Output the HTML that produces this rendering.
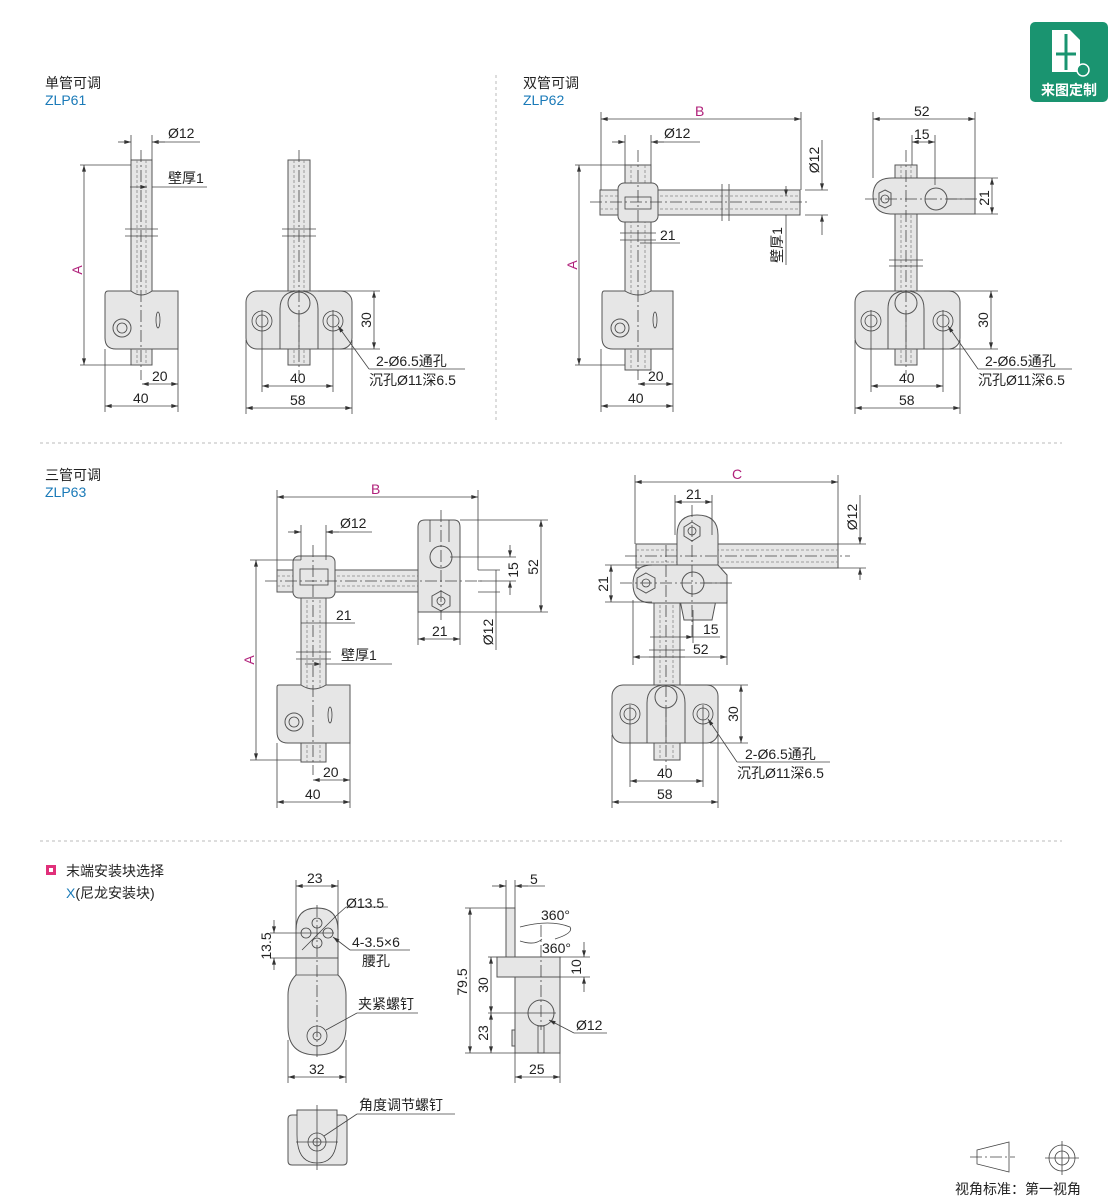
<!DOCTYPE html>
<html><head><meta charset="utf-8"><style>
html,body{margin:0;padding:0;background:#fff;}
svg{display:block;font-family:"Liberation Sans","Noto Sans CJK SC",sans-serif;}
.p{fill:#e6e6e6;stroke:#555;stroke-width:1;}
.d{stroke:#444;stroke-width:0.8;fill:none;}
.c{stroke:#444;stroke-width:0.8;fill:none;stroke-dasharray:12 3 2 3;}
.h{stroke:#888;stroke-width:0.8;fill:none;stroke-dasharray:3 2;}
text{font-size:14px;fill:#222;}
.m{fill:#b0207a;}
.b{fill:#1a7ab8;}
</style></head><body>
<svg width="1110" height="1200" viewBox="0 0 1110 1200" xmlns="http://www.w3.org/2000/svg">
<defs><marker id="a" viewBox="0 0 10 6" refX="10" refY="3" markerWidth="9" markerHeight="5" orient="auto-start-reverse"><path d="M0,0L10,3L0,6z" fill="#333"/></marker></defs>

<!-- logo -->
<rect x="1030" y="22" width="78" height="80" rx="5" fill="#1a9470"/>
<path d="M1052 30h18l10 10v32h-28z" fill="#fff"/>
<path d="M1066 34v36M1056 54h20" stroke="#1a9470" stroke-width="3"/>
<circle cx="1083" cy="70" r="6" fill="#1a9470" stroke="#fff" stroke-width="1.5"/>
<text x="1069" y="95" text-anchor="middle" style="font-size:14px;font-weight:bold;fill:#fff">来图定制</text>

<!-- dividers -->
<line x1="496" y1="75" x2="496" y2="420" stroke="#bbb" stroke-dasharray="3 3"/>
<line x1="40" y1="443" x2="1062" y2="443" stroke="#bbb" stroke-dasharray="3 3"/>
<line x1="40" y1="841" x2="1062" y2="841" stroke="#bbb" stroke-dasharray="3 3"/>

<text x="45" y="88">单管可调</text><text x="45" y="105" class="b">ZLP61</text>
<text x="523" y="88">双管可调</text><text x="523" y="105" class="b">ZLP62</text>
<text x="45" y="480">三管可调</text><text x="45" y="497" class="b">ZLP63</text>
<rect x="46" y="865" width="10" height="10" fill="#e0307a"/><rect x="49" y="868" width="4" height="4" fill="#fff"/>
<text x="66" y="876">末端安装块选择</text>
<text x="66" y="898"><tspan class="b">X</tspan>(尼龙安装块)</text>

<!-- ===== ZLP61 left ===== -->
<rect class="p" x="131" y="160" width="21" height="205"/>
<line class="h" x1="137" y1="160" x2="137" y2="365"/><line class="h" x1="146" y1="160" x2="146" y2="365"/>
<line class="d" x1="125" y1="229" x2="158" y2="229"/><line class="d" x1="125" y1="236" x2="158" y2="236"/>
<path class="p" d="M108 291h23q10 8 21 0h26v58h-62q-11 0-11-11v-43q0-4 3-4z"/>
<circle class="p" cx="122" cy="328" r="9"/><circle class="d" cx="122" cy="328" r="5"/>
<ellipse class="d" cx="158" cy="320" rx="2" ry="8"/>
<line class="c" x1="141" y1="150" x2="141" y2="380"/>
<line class="d" x1="131" y1="135" x2="131" y2="160"/><line class="d" x1="152" y1="135" x2="152" y2="160"/>
<line class="d" x1="118" y1="142" x2="131" y2="142" marker-end="url(#a)"/><line class="d" x1="165" y1="142" x2="152" y2="142" marker-end="url(#a)"/><line class="d" x1="152" y1="142" x2="200" y2="142"/>
<text x="168" y="138">Ø12</text>
<line class="d" x1="152" y1="187" x2="207" y2="187"/><line class="d" x1="130" y1="187" x2="147" y2="187" marker-end="url(#a)"/>
<text x="168" y="183">壁厚1</text>
<line class="d" x1="80" y1="165" x2="131" y2="165"/><line class="d" x1="80" y1="365" x2="131" y2="365"/>
<line class="d" x1="84" y1="165" x2="84" y2="365" marker-start="url(#a)" marker-end="url(#a)"/>
<text x="82" y="270" class="m" transform="rotate(-90 82 270)" text-anchor="middle">A</text>
<line class="d" x1="105" y1="349" x2="105" y2="412"/><line class="d" x1="178" y1="349" x2="178" y2="412"/>
<line class="d" x1="142" y1="384" x2="178" y2="384" marker-start="url(#a)" marker-end="url(#a)"/><text x="152" y="381">20</text>
<line class="d" x1="105" y1="406" x2="178" y2="406" marker-start="url(#a)" marker-end="url(#a)"/><text x="133" y="403">40</text>

<!-- ZLP61 right -->
<rect class="p" x="288" y="160" width="22" height="205"/>
<line class="h" x1="294" y1="160" x2="294" y2="365"/><line class="h" x1="304" y1="160" x2="304" y2="365"/>
<line class="d" x1="282" y1="229" x2="316" y2="229"/><line class="d" x1="282" y1="236" x2="316" y2="236"/>
<rect class="p" x="246" y="291" width="106" height="58" rx="11"/>
<path class="p" d="M280 349v-40q0-18 19-18q19 0 19 18v40z"/>
<circle class="p" cx="299" cy="303" r="11"/>
<line class="d" x1="299" y1="315" x2="299" y2="349"/>
<circle class="d" cx="262" cy="321" r="10"/><circle class="d" cx="262" cy="321" r="6"/>
<circle class="d" cx="333" cy="321" r="10"/><circle class="d" cx="333" cy="321" r="6"/>
<line class="c" x1="299" y1="150" x2="299" y2="375"/>
<line class="d" x1="318" y1="291" x2="380" y2="291"/><line class="d" x1="340" y1="349" x2="380" y2="349"/>
<line class="d" x1="374" y1="291" x2="374" y2="349" marker-start="url(#a)" marker-end="url(#a)"/>
<text x="371" y="320" transform="rotate(-90 371 320)" text-anchor="middle">30</text>
<line class="d" x1="262" y1="310" x2="262" y2="392"/><line class="d" x1="333" y1="310" x2="333" y2="392"/>
<line class="d" x1="246" y1="340" x2="246" y2="414"/><line class="d" x1="352" y1="340" x2="352" y2="414"/>
<line class="d" x1="262" y1="386" x2="333" y2="386" marker-start="url(#a)" marker-end="url(#a)"/><text x="290" y="383">40</text>
<line class="d" x1="246" y1="408" x2="352" y2="408" marker-start="url(#a)" marker-end="url(#a)"/><text x="290" y="405">58</text>
<line class="d" x1="369" y1="369" x2="338" y2="326" marker-end="url(#a)"/><line class="d" x1="369" y1="369" x2="465" y2="369"/>
<text x="376" y="366">2-Ø6.5通孔</text><text x="369" y="385">沉孔Ø11深6.5</text>

<!-- ===== ZLP62 left ===== -->
<rect class="p" x="625" y="165" width="26" height="205"/>
<line class="h" x1="631" y1="165" x2="631" y2="370"/><line class="h" x1="645" y1="165" x2="645" y2="370"/>
<rect class="p" x="600" y="190" width="200" height="25"/>
<line class="h" x1="600" y1="196" x2="800" y2="196"/><line class="h" x1="600" y1="209" x2="800" y2="209"/>
<line class="d" x1="722" y1="184" x2="722" y2="221"/><line class="d" x1="729" y1="184" x2="729" y2="221"/>
<rect class="p" x="618" y="183" width="40" height="39" rx="6"/>
<rect class="d" x="625" y="197" width="26" height="12"/>
<line class="d" x1="620" y1="233" x2="656" y2="233"/><line class="d" x1="620" y1="240" x2="656" y2="240"/>
<path class="p" d="M604 291h21q13 8 26 0h22v58h-60q-11 0-11-11v-43q0-4 2-4z"/>
<circle class="p" cx="620" cy="328" r="9"/><circle class="d" cx="620" cy="328" r="5"/>
<ellipse class="d" cx="655" cy="320" rx="2" ry="8"/>
<line class="c" x1="638" y1="150" x2="638" y2="380"/><line class="c" x1="590" y1="202" x2="810" y2="202"/>
<line class="d" x1="601" y1="112" x2="601" y2="190"/><line class="d" x1="801" y1="112" x2="801" y2="190"/>
<line class="d" x1="601" y1="119" x2="801" y2="119" marker-start="url(#a)" marker-end="url(#a)"/><text x="695" y="116" class="m">B</text>
<line class="d" x1="625" y1="135" x2="625" y2="165"/><line class="d" x1="651" y1="135" x2="651" y2="165"/>
<line class="d" x1="612" y1="142" x2="625" y2="142" marker-end="url(#a)"/><line class="d" x1="664" y1="142" x2="651" y2="142" marker-end="url(#a)"/><line class="d" x1="651" y1="142" x2="700" y2="142"/>
<text x="664" y="138">Ø12</text>
<line class="d" x1="575" y1="165" x2="625" y2="165"/><line class="d" x1="575" y1="365" x2="625" y2="365"/>
<line class="d" x1="579" y1="165" x2="579" y2="365" marker-start="url(#a)" marker-end="url(#a)"/>
<text x="577" y="265" class="m" transform="rotate(-90 577 265)" text-anchor="middle">A</text>
<line class="d" x1="640" y1="243" x2="680" y2="243"/><text x="660" y="240">21</text>
<line class="d" x1="805" y1="190" x2="828" y2="190"/><line class="d" x1="805" y1="215" x2="828" y2="215"/>
<line class="d" x1="822" y1="170" x2="822" y2="190" marker-end="url(#a)"/><line class="d" x1="822" y1="235" x2="822" y2="215" marker-end="url(#a)"/><line class="d" x1="822" y1="140" x2="822" y2="170"/>
<text x="819" y="160" transform="rotate(-90 819 160)" text-anchor="middle">Ø12</text>
<line class="d" x1="786" y1="215" x2="786" y2="265"/><line class="d" x1="786" y1="186" x2="786" y2="196" marker-end="url(#a)"/>
<text x="782" y="245" transform="rotate(-90 782 245)" text-anchor="middle">壁厚1</text>
<line class="d" x1="601" y1="349" x2="601" y2="412"/><line class="d" x1="673" y1="349" x2="673" y2="412"/>
<line class="d" x1="638" y1="384" x2="673" y2="384" marker-start="url(#a)" marker-end="url(#a)"/><text x="648" y="381">20</text>
<line class="d" x1="601" y1="406" x2="673" y2="406" marker-start="url(#a)" marker-end="url(#a)"/><text x="628" y="403">40</text>

<!-- ZLP62 right -->
<rect class="p" x="895" y="165" width="22" height="200"/>
<line class="h" x1="901" y1="165" x2="901" y2="365"/><line class="h" x1="911" y1="165" x2="911" y2="365"/>
<line class="d" x1="889" y1="260" x2="923" y2="260"/><line class="d" x1="889" y1="266" x2="923" y2="266"/>
<path class="p" d="M892 178h83v36h-83q-19 0-19-18q0-18 19-18z"/>
<polygon class="p" points="885,190 891,193 891,205 885,208 879,205 879,193"/>
<circle class="d" cx="885" cy="199" r="4"/>
<circle class="p" cx="936" cy="199" r="11"/>
<line class="d" x1="947" y1="199" x2="975" y2="199"/>
<rect class="p" x="855" y="291" width="105" height="58" rx="11"/>
<path class="p" d="M888 349v-40q0-18 18-18q18 0 18 18v40z"/>
<circle class="p" cx="906" cy="303" r="11"/>
<line class="d" x1="906" y1="315" x2="906" y2="349"/>
<circle class="d" cx="871" cy="321" r="10"/><circle class="d" cx="871" cy="321" r="6"/>
<circle class="d" cx="943" cy="321" r="10"/><circle class="d" cx="943" cy="321" r="6"/>
<line class="c" x1="906" y1="150" x2="906" y2="375"/><line class="c" x1="865" y1="199" x2="985" y2="199"/>
<line class="d" x1="873" y1="112" x2="873" y2="178"/><line class="d" x1="975" y1="112" x2="975" y2="178"/>
<line class="d" x1="873" y1="119" x2="975" y2="119" marker-start="url(#a)" marker-end="url(#a)"/><text x="914" y="116">52</text>
<line class="d" x1="912" y1="135" x2="912" y2="165"/><line class="d" x1="935" y1="135" x2="935" y2="185"/>
<line class="d" x1="912" y1="142" x2="935" y2="142" marker-start="url(#a)" marker-end="url(#a)"/><text x="914" y="139">15</text>
<line class="d" x1="975" y1="178" x2="998" y2="178"/><line class="d" x1="975" y1="214" x2="998" y2="214"/>
<line class="d" x1="992" y1="178" x2="992" y2="214" marker-start="url(#a)" marker-end="url(#a)"/>
<text x="989" y="198" transform="rotate(-90 989 198)" text-anchor="middle">21</text>
<line class="d" x1="924" y1="291" x2="998" y2="291"/><line class="d" x1="950" y1="349" x2="998" y2="349"/>
<line class="d" x1="991" y1="291" x2="991" y2="349" marker-start="url(#a)" marker-end="url(#a)"/>
<text x="988" y="320" transform="rotate(-90 988 320)" text-anchor="middle">30</text>
<line class="d" x1="871" y1="310" x2="871" y2="392"/><line class="d" x1="943" y1="310" x2="943" y2="392"/>
<line class="d" x1="855" y1="340" x2="855" y2="414"/><line class="d" x1="960" y1="340" x2="960" y2="414"/>
<line class="d" x1="871" y1="386" x2="943" y2="386" marker-start="url(#a)" marker-end="url(#a)"/><text x="899" y="383">40</text>
<line class="d" x1="855" y1="408" x2="960" y2="408" marker-start="url(#a)" marker-end="url(#a)"/><text x="899" y="405">58</text>
<line class="d" x1="978" y1="369" x2="948" y2="326" marker-end="url(#a)"/><line class="d" x1="978" y1="369" x2="1072" y2="369"/>
<text x="985" y="366">2-Ø6.5通孔</text><text x="978" y="385">沉孔Ø11深6.5</text>

<!-- ===== ZLP63 left ===== -->
<rect class="p" x="301" y="560" width="25" height="202"/>
<line class="h" x1="307" y1="560" x2="307" y2="762"/><line class="h" x1="320" y1="560" x2="320" y2="762"/>
<line class="d" x1="296" y1="652" x2="331" y2="652"/><line class="d" x1="296" y1="659" x2="331" y2="659"/>
<rect class="p" x="277" y="570" width="160" height="22"/>
<line class="h" x1="277" y1="576" x2="437" y2="576"/><line class="h" x1="277" y1="586" x2="437" y2="586"/>
<rect class="p" x="293" y="556" width="42" height="42" rx="6"/>
<rect class="d" x="300" y="569" width="28" height="16"/>
<path class="p" d="M418 612v-85q0-7 7-7h29q6 0 6 7v85z"/>
<path class="d" d="M430 520v22M449 520v22"/>
<circle class="p" cx="441" cy="557" r="11"/>
<polygon class="p" points="441,591 450,596 450,606 441,611 432,606 432,596"/><circle class="d" cx="441" cy="601" r="4"/>
<path class="p" d="M279 685h22q12 8 25 0h24v58h-62q-11 0-11-11v-45q0-2 2-2z"/>
<circle class="p" cx="294" cy="722" r="9"/><circle class="d" cx="294" cy="722" r="5"/>
<ellipse class="d" cx="330" cy="715" rx="2" ry="8"/>
<line class="c" x1="313" y1="545" x2="313" y2="775"/><line class="c" x1="265" y1="581" x2="485" y2="581"/><line class="c" x1="441" y1="510" x2="441" y2="620"/>
<line class="d" x1="277" y1="490" x2="277" y2="570"/><line class="d" x1="478" y1="490" x2="478" y2="570"/>
<line class="d" x1="277" y1="497" x2="478" y2="497" marker-start="url(#a)" marker-end="url(#a)"/><text x="371" y="494" class="m">B</text>
<line class="d" x1="301" y1="525" x2="301" y2="560"/><line class="d" x1="326" y1="525" x2="326" y2="560"/>
<line class="d" x1="288" y1="532" x2="301" y2="532" marker-end="url(#a)"/><line class="d" x1="339" y1="532" x2="326" y2="532" marker-end="url(#a)"/><line class="d" x1="326" y1="532" x2="372" y2="532"/>
<text x="340" y="528">Ø12</text>
<line class="d" x1="301" y1="623" x2="355" y2="623"/><text x="336" y="620">21</text>
<line class="d" x1="326" y1="664" x2="392" y2="664"/><line class="d" x1="305" y1="664" x2="321" y2="664" marker-end="url(#a)"/><text x="341" y="660">壁厚1</text>
<line class="d" x1="250" y1="560" x2="301" y2="560"/><line class="d" x1="250" y1="760" x2="301" y2="760"/>
<line class="d" x1="256" y1="560" x2="256" y2="760" marker-start="url(#a)" marker-end="url(#a)"/>
<text x="254" y="660" class="m" transform="rotate(-90 254 660)" text-anchor="middle">A</text>
<line class="d" x1="460" y1="520" x2="548" y2="520"/><line class="d" x1="460" y1="612" x2="548" y2="612"/>
<line class="d" x1="541" y1="520" x2="541" y2="612" marker-start="url(#a)" marker-end="url(#a)"/>
<text x="538" y="567" transform="rotate(-90 538 567)" text-anchor="middle">52</text>
<line class="d" x1="450" y1="557" x2="516" y2="557"/><line class="d" x1="478" y1="581" x2="516" y2="581"/>
<line class="d" x1="510" y1="545" x2="510" y2="557" marker-end="url(#a)"/><line class="d" x1="510" y1="595" x2="510" y2="581" marker-end="url(#a)"/>
<text x="518" y="570" transform="rotate(-90 518 570)" text-anchor="middle">15</text>
<line class="d" x1="478" y1="570" x2="500" y2="570"/><line class="d" x1="478" y1="592" x2="500" y2="592"/>
<line class="d" x1="496" y1="570" x2="496" y2="650"/>
<text x="493" y="632" transform="rotate(-90 493 632)" text-anchor="middle">Ø12</text>
<line class="d" x1="418" y1="612" x2="418" y2="645"/><line class="d" x1="460" y1="612" x2="460" y2="645"/>
<line class="d" x1="418" y1="639" x2="460" y2="639" marker-start="url(#a)" marker-end="url(#a)"/><text x="432" y="636">21</text>
<line class="d" x1="277" y1="743" x2="277" y2="808"/><line class="d" x1="350" y1="743" x2="350" y2="808"/>
<line class="d" x1="313" y1="780" x2="350" y2="780" marker-start="url(#a)" marker-end="url(#a)"/><text x="323" y="777">20</text>
<line class="d" x1="277" y1="802" x2="350" y2="802" marker-start="url(#a)" marker-end="url(#a)"/><text x="305" y="799">40</text>

<!-- ZLP63 right -->
<rect class="p" x="654" y="600" width="26" height="160"/>
<line class="h" x1="660" y1="600" x2="660" y2="760"/><line class="h" x1="673" y1="600" x2="673" y2="760"/>
<line class="d" x1="649" y1="650" x2="685" y2="650"/><line class="d" x1="649" y1="657" x2="685" y2="657"/>
<rect class="p" x="636" y="544" width="202" height="24"/>
<line class="h" x1="636" y1="550" x2="838" y2="550"/><line class="h" x1="636" y1="562" x2="838" y2="562"/>
<path class="p" d="M677 568v-33q0-20 20-20q21 0 21 20v33z"/>
<polygon class="p" points="692,522 700,527 700,536 692,541 684,536 684,527"/><circle class="d" cx="692" cy="531" r="4"/>
<path class="p" d="M680 600l4 20h28l4-20z"/>
<path class="p" d="M652 565h66l9 10v28h-75q-19 0-19-19q0-19 19-19z"/>
<polygon class="p" points="646,573 655,578 655,588 646,593 637,588 637,578"/><circle class="d" cx="646" cy="583" r="4"/>
<circle class="p" cx="693" cy="583" r="11"/>
<line class="d" x1="704" y1="583" x2="727" y2="583"/>
<rect class="p" x="612" y="685" width="106" height="58" rx="11"/>
<path class="p" d="M647 743v-40q0-18 19-18q19 0 19 18v40z"/>
<circle class="p" cx="666" cy="697" r="11"/>
<line class="d" x1="666" y1="709" x2="666" y2="743"/>
<circle class="d" cx="630" cy="714" r="10"/><circle class="d" cx="630" cy="714" r="6"/>
<circle class="d" cx="703" cy="714" r="10"/><circle class="d" cx="703" cy="714" r="6"/>
<line class="c" x1="666" y1="545" x2="666" y2="770"/><line class="c" x1="625" y1="556" x2="850" y2="556"/><line class="c" x1="692" y1="505" x2="692" y2="640"/><line class="c" x1="620" y1="583" x2="735" y2="583"/>
<line class="d" x1="635" y1="475" x2="635" y2="544"/><line class="d" x1="838" y1="475" x2="838" y2="544"/>
<line class="d" x1="635" y1="482" x2="838" y2="482" marker-start="url(#a)" marker-end="url(#a)"/><text x="732" y="479" class="m">C</text>
<line class="d" x1="675" y1="495" x2="675" y2="535"/><line class="d" x1="712" y1="495" x2="712" y2="535"/>
<line class="d" x1="675" y1="502" x2="712" y2="502" marker-start="url(#a)" marker-end="url(#a)"/><text x="686" y="499">21</text>
<line class="d" x1="838" y1="544" x2="866" y2="544"/><line class="d" x1="838" y1="568" x2="866" y2="568"/>
<line class="d" x1="860" y1="495" x2="860" y2="544" marker-end="url(#a)"/><line class="d" x1="860" y1="580" x2="860" y2="568" marker-end="url(#a)"/>
<text x="857" y="517" transform="rotate(-90 857 517)" text-anchor="middle">Ø12</text>
<line class="d" x1="605" y1="565" x2="652" y2="565"/><line class="d" x1="605" y1="602" x2="652" y2="602"/>
<line class="d" x1="611" y1="565" x2="611" y2="602" marker-start="url(#a)" marker-end="url(#a)"/>
<text x="608" y="584" transform="rotate(-90 608 584)" text-anchor="middle">21</text>
<line class="d" x1="633" y1="600" x2="633" y2="665"/><line class="d" x1="727" y1="600" x2="727" y2="665"/>
<line class="d" x1="693" y1="610" x2="693" y2="643"/>
<line class="d" x1="650" y1="637" x2="693" y2="637" marker-end="url(#a)"/><line class="d" x1="693" y1="637" x2="720" y2="637"/><text x="703" y="634">15</text>
<line class="d" x1="633" y1="657" x2="727" y2="657" marker-start="url(#a)" marker-end="url(#a)"/><text x="693" y="654">52</text>
<line class="d" x1="685" y1="685" x2="748" y2="685"/><line class="d" x1="710" y1="743" x2="748" y2="743"/>
<line class="d" x1="741" y1="685" x2="741" y2="743" marker-start="url(#a)" marker-end="url(#a)"/>
<text x="738" y="714" transform="rotate(-90 738 714)" text-anchor="middle">30</text>
<line class="d" x1="630" y1="705" x2="630" y2="787"/><line class="d" x1="703" y1="705" x2="703" y2="787"/>
<line class="d" x1="612" y1="735" x2="612" y2="808"/><line class="d" x1="718" y1="735" x2="718" y2="808"/>
<line class="d" x1="630" y1="781" x2="703" y2="781" marker-start="url(#a)" marker-end="url(#a)"/><text x="657" y="778">40</text>
<line class="d" x1="612" y1="802" x2="718" y2="802" marker-start="url(#a)" marker-end="url(#a)"/><text x="657" y="799">58</text>
<line class="d" x1="737" y1="762" x2="708" y2="719" marker-end="url(#a)"/><line class="d" x1="737" y1="762" x2="830" y2="762"/>
<text x="745" y="759">2-Ø6.5通孔</text><text x="737" y="778">沉孔Ø11深6.5</text>

<!-- ===== Section 4 ===== -->
<path class="p" d="M296 958v-28q0-22 21-22q21 0 21 22v28z"/>
<path class="p" d="M296 958h42v17q8 8 8 20v32q0 28-29 28q-29 0-29-28v-32q0-12 8-20z"/>
<line class="d" x1="296" y1="975" x2="338" y2="975"/>
<circle class="d" cx="317" cy="923" r="5"/><circle class="d" cx="317" cy="943" r="5"/>
<circle class="d" cx="306" cy="933" r="5"/><circle class="d" cx="328" cy="933" r="5"/>
<line class="d" x1="302" y1="950" x2="336" y2="916"/>
<circle class="d" cx="317" cy="1036" r="10"/><circle class="d" cx="317" cy="1036" r="4"/>
<line class="c" x1="317" y1="905" x2="317" y2="1060"/><line class="d" x1="300" y1="933" x2="334" y2="933"/>
<line class="d" x1="296" y1="880" x2="296" y2="930"/><line class="d" x1="338" y1="880" x2="338" y2="930"/>
<line class="d" x1="296" y1="886" x2="338" y2="886" marker-start="url(#a)" marker-end="url(#a)"/><text x="307" y="883">23</text>
<line class="d" x1="336" y1="916" x2="346" y2="907"/><line class="d" x1="346" y1="907" x2="388" y2="907"/><text x="346" y="908">Ø13.5</text>
<line class="d" x1="270" y1="933" x2="300" y2="933"/><line class="d" x1="270" y1="958" x2="296" y2="958"/>
<line class="d" x1="274" y1="920" x2="274" y2="933" marker-end="url(#a)"/><line class="d" x1="274" y1="970" x2="274" y2="958" marker-end="url(#a)"/>
<text x="271" y="946" transform="rotate(-90 271 946)" text-anchor="middle">13.5</text>
<line class="d" x1="350" y1="950" x2="333" y2="937" marker-end="url(#a)"/><line class="d" x1="350" y1="950" x2="410" y2="950"/>
<text x="352" y="947">4-3.5×6</text><text x="362" y="966">腰孔</text>
<line class="d" x1="326" y1="1030" x2="357" y2="1013"/><line class="d" x1="357" y1="1013" x2="418" y2="1013"/><text x="358" y="1009">夹紧螺钉</text>
<line class="d" x1="288" y1="1040" x2="288" y2="1083"/><line class="d" x1="346" y1="1040" x2="346" y2="1083"/>
<line class="d" x1="288" y1="1077" x2="346" y2="1077" marker-start="url(#a)" marker-end="url(#a)"/><text x="309" y="1074">32</text>

<path class="p" d="M297 1110h40v5h6q4 0 4 4v42q0 4-4 4h-51q-4 0-4-4v-42q0-4 4-4h5z"/>
<path class="d" d="M297 1115v20q0 28 20 28q20 0 20-28v-20"/>
<circle class="d" cx="317" cy="1142" r="9"/><circle class="d" cx="317" cy="1142" r="4"/>
<line class="d" x1="317" y1="1105" x2="317" y2="1170"/><line class="d" x1="296" y1="1142" x2="338" y2="1142"/>
<line class="d" x1="324" y1="1136" x2="357" y2="1114"/><line class="d" x1="357" y1="1114" x2="455" y2="1114"/><text x="359" y="1110">角度调节螺钉</text>

<rect class="p" x="506" y="908" width="9" height="50"/>
<rect class="p" x="497" y="957" width="63" height="20"/>
<rect class="p" x="515" y="977" width="45" height="76"/>
<rect class="p" x="512" y="1030" width="3" height="16"/>
<circle class="p" cx="541" cy="1013" r="13"/>
<rect class="d" x="538" y="1026" width="6" height="27"/>
<line class="c" x1="541" y1="925" x2="541" y2="1030"/><line class="d" x1="488" y1="1013" x2="556" y2="1013"/>
<path class="d" d="M520 927q30-8 50 0q4 6-15 12" /><path class="d" d="M520 941q15 5 22-2"/>
<text x="541" y="920">360°</text><text x="542" y="953">360°</text>
<line class="d" x1="506" y1="880" x2="506" y2="908"/><line class="d" x1="515" y1="880" x2="515" y2="908"/>
<line class="d" x1="492" y1="886" x2="506" y2="886" marker-end="url(#a)"/><line class="d" x1="528" y1="886" x2="515" y2="886" marker-end="url(#a)"/><line class="d" x1="515" y1="886" x2="545" y2="886"/><text x="530" y="884">5</text>
<line class="d" x1="465" y1="908" x2="506" y2="908"/><line class="d" x1="465" y1="1053" x2="515" y2="1053"/>
<line class="d" x1="470" y1="908" x2="470" y2="1053" marker-start="url(#a)" marker-end="url(#a)"/>
<text x="467" y="982" transform="rotate(-90 467 982)" text-anchor="middle">79.5</text>
<line class="d" x1="488" y1="957" x2="497" y2="957"/>
<line class="d" x1="491" y1="957" x2="491" y2="1013" marker-start="url(#a)" marker-end="url(#a)"/>
<text x="488" y="985" transform="rotate(-90 488 985)" text-anchor="middle">30</text>
<line class="d" x1="491" y1="1013" x2="491" y2="1053" marker-start="url(#a)" marker-end="url(#a)"/>
<text x="488" y="1033" transform="rotate(-90 488 1033)" text-anchor="middle">23</text>
<line class="d" x1="560" y1="957" x2="590" y2="957"/><line class="d" x1="560" y1="977" x2="590" y2="977"/>
<line class="d" x1="584" y1="942" x2="584" y2="957" marker-end="url(#a)"/><line class="d" x1="584" y1="992" x2="584" y2="977" marker-end="url(#a)"/>
<text x="581" y="967" transform="rotate(-90 581 967)" text-anchor="middle">10</text>
<line class="d" x1="574" y1="1033" x2="549" y2="1020" marker-end="url(#a)"/><line class="d" x1="574" y1="1033" x2="607" y2="1033"/><text x="576" y="1030">Ø12</text>
<line class="d" x1="515" y1="1053" x2="515" y2="1083"/><line class="d" x1="560" y1="1053" x2="560" y2="1083"/>
<line class="d" x1="515" y1="1077" x2="560" y2="1077" marker-start="url(#a)" marker-end="url(#a)"/><text x="529" y="1074">25</text>

<!-- view legend -->
<path class="d" d="M977 1150l32-8v30l-32-8z"/><line class="c" x1="970" y1="1157" x2="1015" y2="1157"/>
<circle class="d" cx="1062" cy="1158" r="13"/><circle class="d" cx="1062" cy="1158" r="7"/>
<line class="d" x1="1045" y1="1158" x2="1079" y2="1158"/><line class="d" x1="1062" y1="1141" x2="1062" y2="1175"/>
<text x="955" y="1194" style="font-size:14px">视角标准：第一视角</text>
</svg>
</body></html>
